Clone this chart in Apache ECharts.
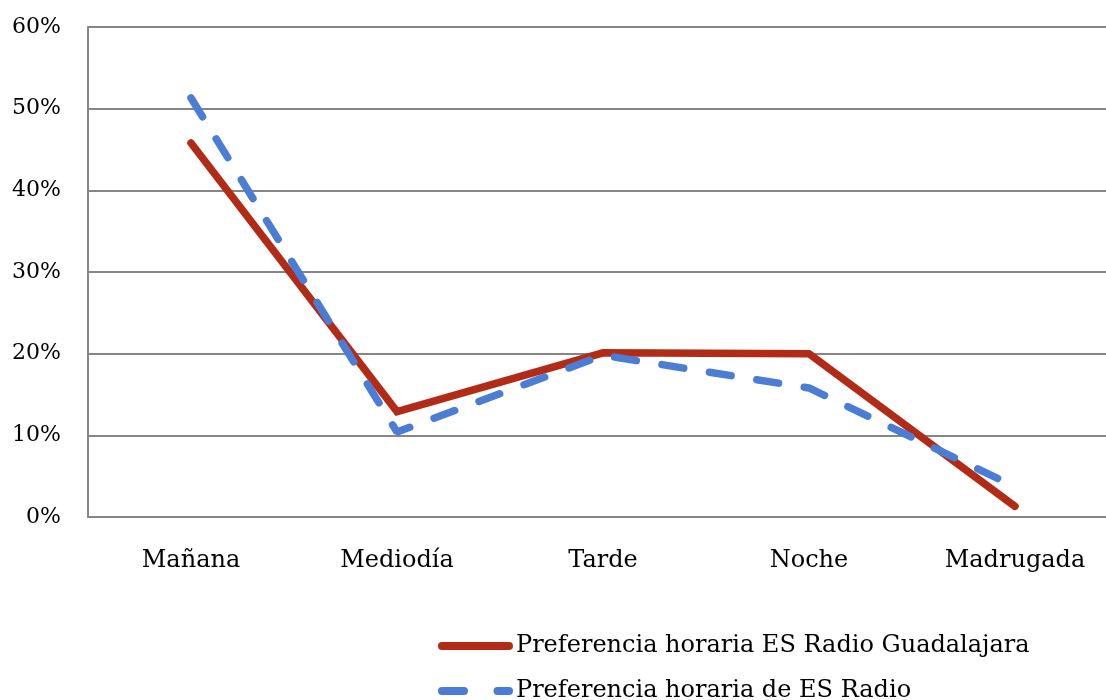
<!DOCTYPE html>
<html>
<head>
<meta charset="utf-8">
<script src="https://cdn.jsdelivr.net/npm/echarts@6/dist/echarts.min.js"></script>
<style>
  html, body { margin: 0; padding: 0; background: #fff; }
  #chart { width: 1106px; height: 700px; }
</style>
</head>
<body>
<div id="chart"></div>
<script>
const categories = ['Mañana', 'Mediodía', 'Tarde', 'Noche', 'Madrugada'];
const guadalajara = [45.8, 12.9, 20.1, 20.0, 1.3];
const esRadio = [51.3, 10.4, 19.8, 15.8, 3.7];
const seriesNames = ['Preferencia horaria ES Radio Guadalajara', 'Preferencia horaria de ES Radio'];

const font = 'DejaVu Serif';
const red = '#B22B17';
const blue = '#4A7DD3';
const chart = echarts.init(document.getElementById('chart'));

// legend keys: solid bar and a dash-gap-dash, both 75 x 8
const solidIcon = 'path://M4,0H71A4,4,0,0,1,71,8H4A4,4,0,0,1,4,0Z';
const dashIcon = 'path://M4,0H26A4,4,0,0,1,26,8H4A4,4,0,0,1,4,0Z M59.5,0H71A4,4,0,0,1,71,8H59.5A4,4,0,0,1,59.5,0Z';

// one legend per row so the two entries stack like the original
function legendRow(name, icon, top) {
  return {
    left: 438,
    top: top,
    padding: 0,
    icon: icon,
    itemWidth: 75,
    itemHeight: 8,
    textStyle: { fontFamily: font, fontSize: 24, color: '#000', padding: [0, 0, 0, -2] },
    data: [name]
  };
}

const option = {
  animation: false,
  textStyle: { fontFamily: font },
  // plot area runs past the right edge of the picture, as in the original
  grid: { left: 88, top: 27, width: 1030, bottom: 183, outerBoundsMode: 'none' },
  legend: [
    legendRow(seriesNames[0], solidIcon, 634),
    legendRow(seriesNames[1], dashIcon, 679)
  ],
  xAxis: {
    type: 'category',
    data: categories,
    boundaryGap: true,
    axisLine: { lineStyle: { color: '#868686', width: 2 } },
    axisTick: { show: false },
    axisLabel: { fontFamily: font, fontSize: 24, color: '#000', margin: 32 }
  },
  yAxis: {
    type: 'value',
    min: 0,
    max: 60,
    interval: 10,
    axisLine: { show: true, lineStyle: { color: '#868686', width: 2 } },
    axisTick: { show: false },
    splitLine: { lineStyle: { color: '#868686', width: 2 } },
    axisLabel: { fontFamily: font, fontSize: 22, color: '#000', margin: 27, formatter: '{value}%', padding: [4, 0, 0, 0] }
  },
  series: [
    {
      name: seriesNames[0],
      type: 'line',
      data: guadalajara,
      symbol: 'none',
      lineStyle: { color: red, width: 7.5, cap: 'round', join: 'miter' },
      itemStyle: { color: red }
    },
    {
      name: seriesNames[1],
      type: 'line',
      data: esRadio,
      symbol: 'none',
      lineStyle: { color: blue, width: 7.5, type: [22, 26], cap: 'round' },
      itemStyle: { color: blue }
    }
  ]
};

chart.setOption(option);
</script>
</body>
</html>
